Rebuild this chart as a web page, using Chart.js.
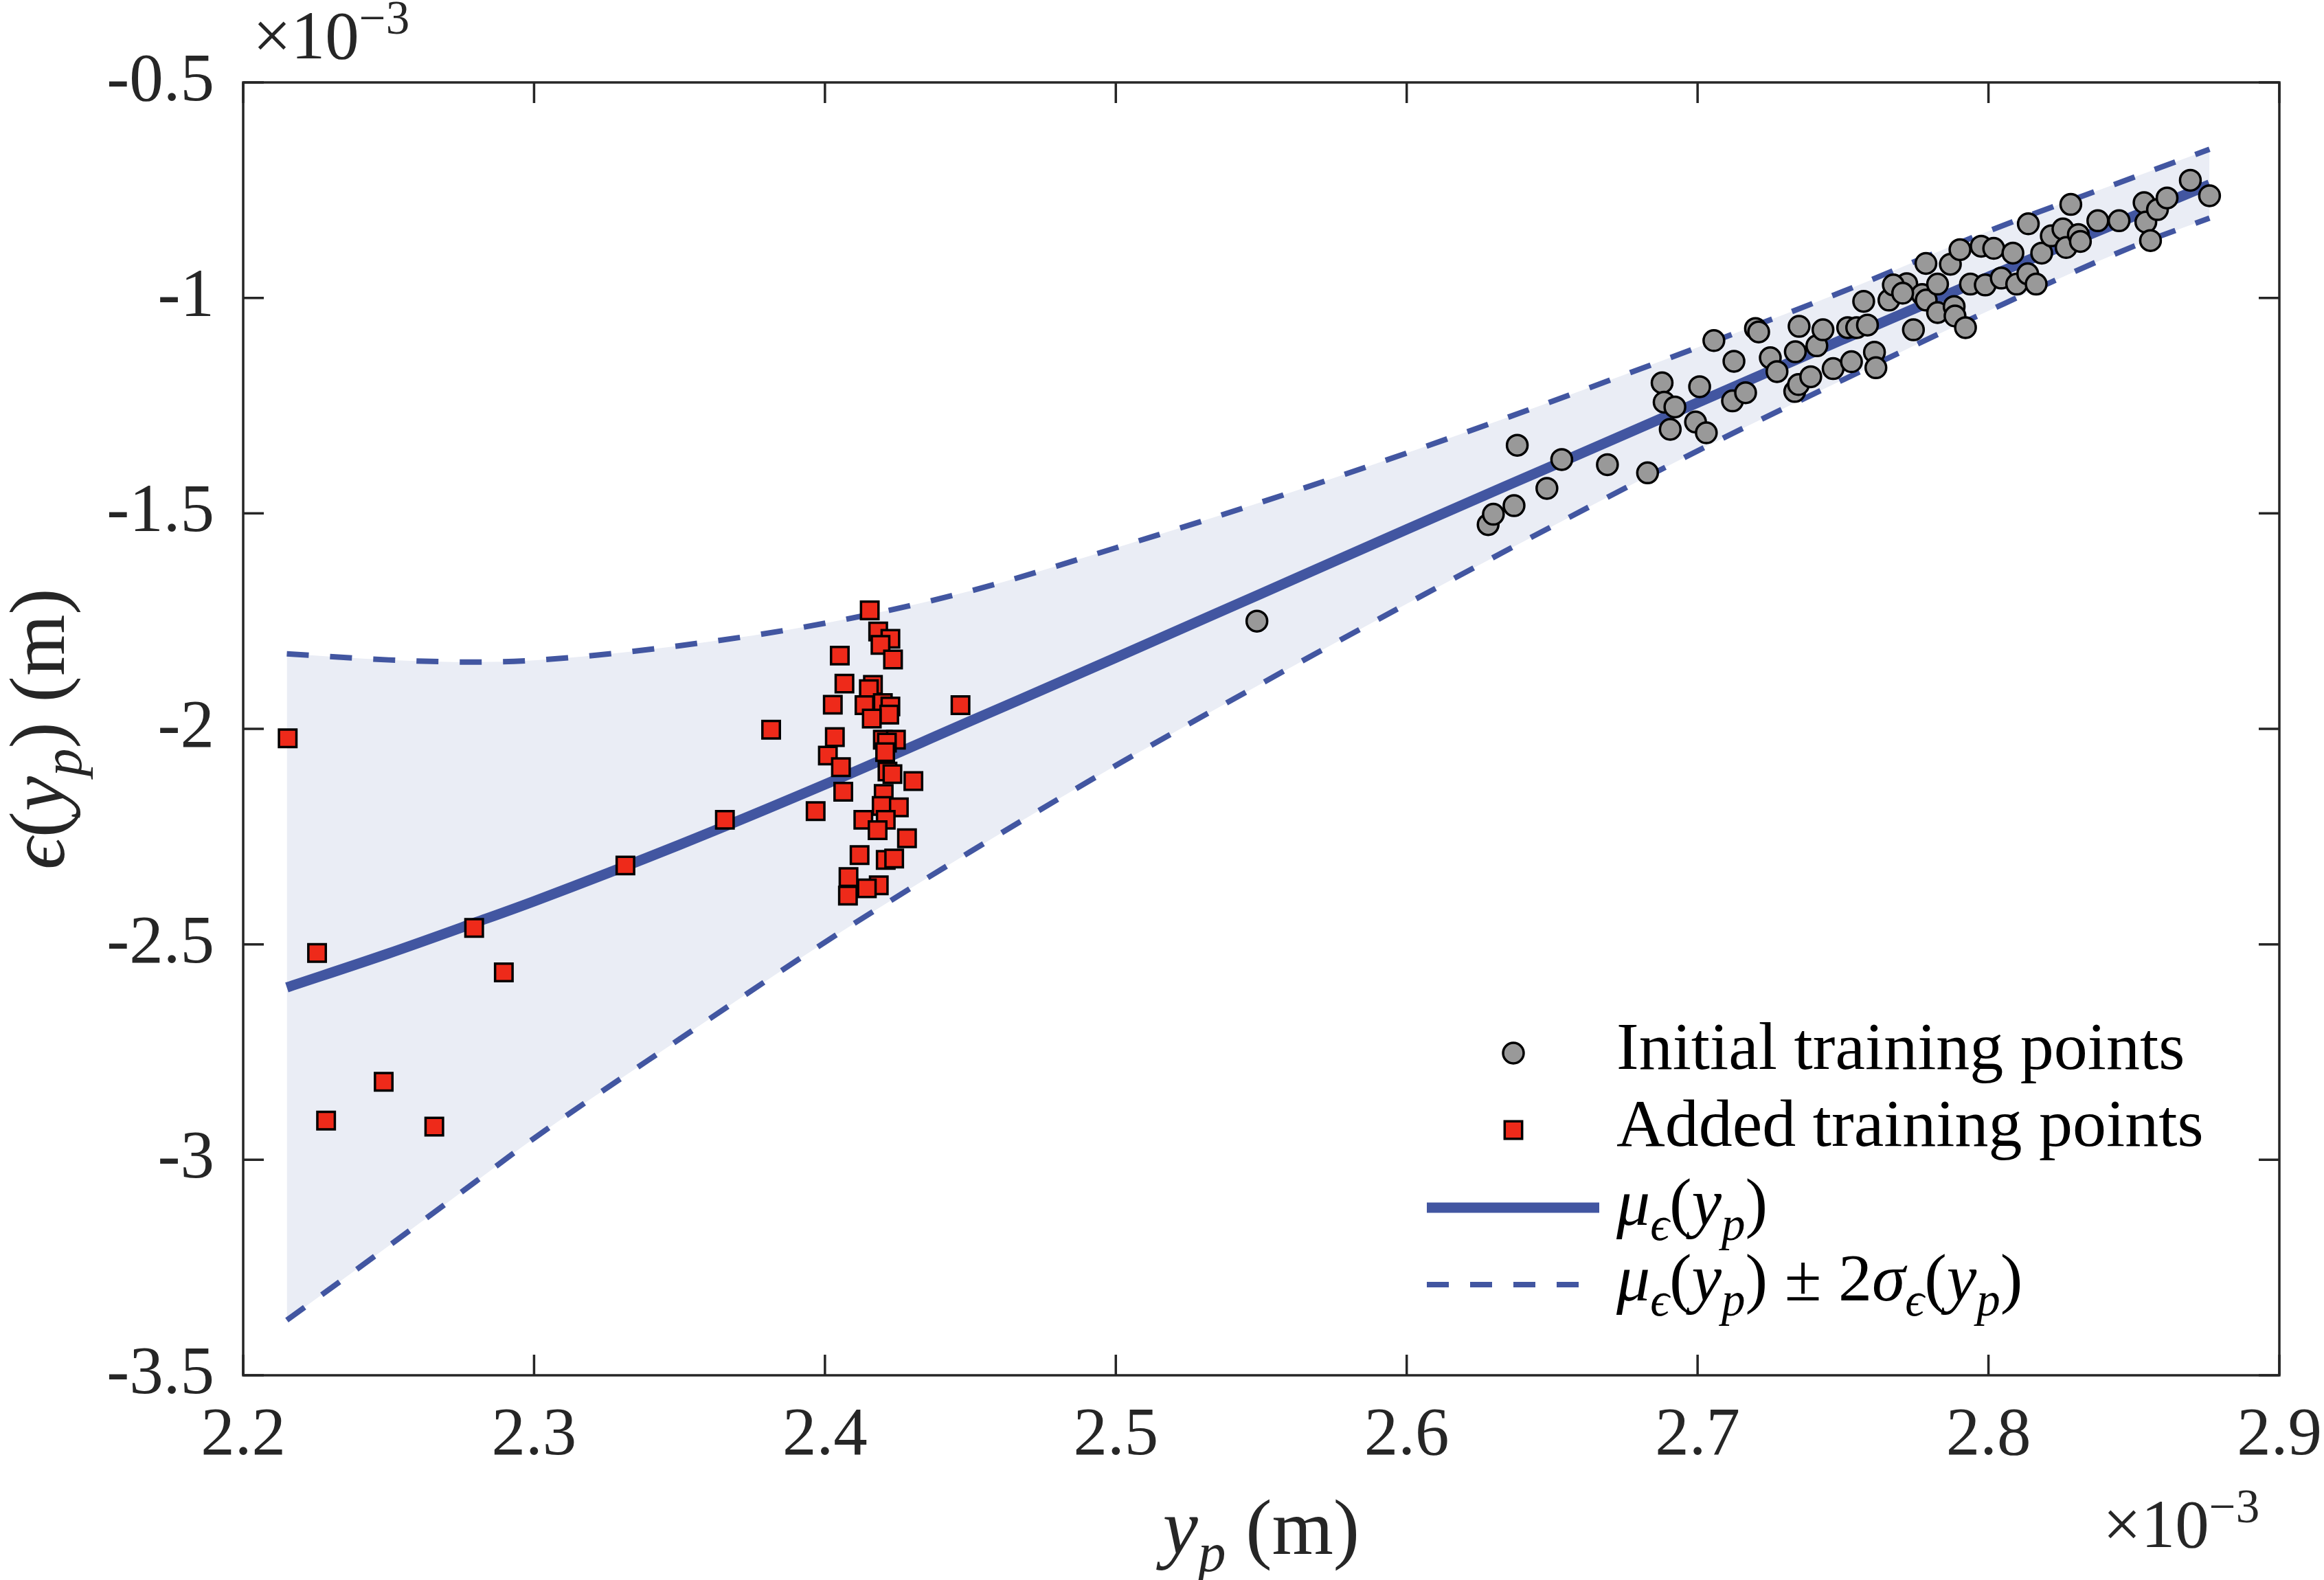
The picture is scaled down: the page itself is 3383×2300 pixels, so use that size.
<!DOCTYPE html>
<html>
<head>
<meta charset="utf-8">
<script src="https://cdn.jsdelivr.net/npm/chart.js@4.4.1/dist/chart.umd.min.js"></script>
<style>
  html, body { margin: 0; padding: 0; background: #fff; }
  canvas { display: block; }
</style>
</head>
<body>
<canvas id="chart" width="3383" height="2300"></canvas>
<script>
// all values in units of 1e-3 m (both axes carry a x10^-3 multiplier)
var xTicks = [2.2, 2.3, 2.4, 2.5, 2.6, 2.7, 2.8, 2.9];
var yTicks = [-3.5, -3, -2.5, -2, -1.5, -1, -0.5];

// GP surrogate: mean and +/- 2 sigma band
var curveX = [2.215, 2.25, 2.28, 2.30, 2.35, 2.40, 2.45, 2.50, 2.55, 2.60, 2.65, 2.70, 2.75, 2.80, 2.85, 2.876];
var meanY  = [-2.600, -2.521, -2.449, -2.400, -2.269, -2.129, -1.982, -1.835, -1.686, -1.537, -1.390, -1.243, -1.096, -0.951, -0.810, -0.737];
var upperY = [-1.826, -1.840, -1.845, -1.841, -1.807, -1.755, -1.680, -1.580, -1.474, -1.360, -1.240, -1.115, -0.985, -0.845, -0.720, -0.655];
var lowerY = [-3.372, -3.200, -3.050, -2.950, -2.720, -2.495, -2.285, -2.085, -1.895, -1.710, -1.530, -1.355, -1.190, -1.030, -0.880, -0.815];

// initial training points (grey circles)
var initialX = [2.6280, 2.6298, 2.6369, 2.6482, 2.6380, 2.6533, 2.6690, 2.6828, 2.6878, 2.6885,
  2.6922, 2.6906, 2.7007, 2.6993, 2.7030, 2.7056, 2.7125, 2.7120, 2.7165, 2.7199,
  2.7210, 2.7250, 2.7273, 2.7334, 2.7347, 2.7389, 2.7349, 2.7336, 2.7410, 2.7431,
  2.7466, 2.7516, 2.7547, 2.7584, 2.7529, 2.7608, 2.7613, 2.7571, 2.7658, 2.7742,
  2.5485, 2.7719, 2.7785, 2.7673, 2.7772, 2.7786, 2.7825, 2.7869, 2.7902, 2.7938,
  2.7975, 2.7989, 2.8018, 2.8044, 2.8084, 2.8097, 2.8135, 2.8164, 2.8137, 2.8183,
  2.8216, 2.8256, 2.8267, 2.8309, 2.8316, 2.8283, 2.8376, 2.8449, 2.8535, 2.8541,
  2.8557, 2.8581, 2.8614, 2.8694, 2.8760, 2.7825, 2.7882, 2.7885, 2.7921, 2.7705];
var initialY = [-1.526, -1.502, -1.482, -1.442, -1.342, -1.375, -1.387, -1.406, -1.197, -1.242,
  -1.253, -1.305, -1.206, -1.288, -1.313, -1.099, -1.147, -1.239, -1.220, -1.071,
  -1.079, -1.139, -1.171, -1.217, -1.201, -1.183, -1.066, -1.125, -1.111, -1.074,
  -1.164, -1.069, -1.069, -1.063, -1.148, -1.126, -1.162, -1.008, -1.005, -1.074,
  -1.750, -0.967, -0.920, -0.970, -0.992, -1.005, -0.968, -0.922, -0.888, -0.968,
  -0.880, -0.970, -0.885, -0.954, -0.896, -0.968, -0.944, -0.968, -0.828, -0.896,
  -0.856, -0.840, -0.883, -0.853, -0.869, -0.783, -0.821, -0.821, -0.779, -0.824,
  -0.867, -0.795, -0.768, -0.727, -0.763, -1.034, -1.020, -1.042, -1.069, -0.989];

// added training points (red squares)
var addedX = [2.2153, 2.2254, 2.2285, 2.2483, 2.2657, 2.2794, 2.2896, 2.3314, 2.3656, 2.3815,
  2.4466, 2.4154, 2.4183, 2.4225, 2.4191, 2.4234, 2.4051, 2.4067, 2.4165, 2.4151,
  2.4027, 2.4136, 2.4199, 2.4225, 2.4221, 2.4161, 2.4034, 2.4199, 2.4244, 2.4213,
  2.4207, 2.4010, 2.4055, 2.4215, 2.4232, 2.4304, 2.4063, 2.4202, 2.3968, 2.4195,
  2.4254, 2.4132, 2.4209, 2.4181, 2.4282, 2.4119, 2.4209, 2.4238, 2.4081, 2.4185,
  2.4144, 2.4079];
var addedY = [-2.022, -2.520, -2.909, -2.819, -2.923, -2.462, -2.565, -2.317, -2.211, -2.002,
  -1.945, -1.725, -1.774, -1.791, -1.805, -1.839, -1.830, -1.895, -1.898, -1.908,
  -1.944, -1.945, -1.940, -1.948, -1.967, -1.976, -2.019, -2.025, -2.025, -2.032,
  -2.054, -2.062, -2.089, -2.099, -2.105, -2.121, -2.146, -2.151, -2.191, -2.179,
  -2.182, -2.211, -2.211, -2.235, -2.254, -2.293, -2.304, -2.301, -2.344, -2.363,
  -2.370, -2.387];

var lineBlue = '#4256a1';
var bandFill = '#eaedf5';
var axisInk = '#262626';
var serif = '"Liberation Serif", "DejaVu Serif", serif';

function pairs(xs, ys) {
  return xs.map(function (x, i) { return { x: x, y: ys[i] }; });
}

// draw a run of text pieces (italic / subscript / superscript), returns width
function drawRuns(ctx, runs, x, y, base, measureOnly) {
  var cx = x;
  runs.forEach(function (r) {
    var small = r.sub || r.sup;
    var size = small ? Math.round(base * 0.7) : base;
    ctx.font = (r.it ? 'italic ' : '') + size + 'px ' + serif;
    var dy = r.sub ? base * 0.22 : (r.sup ? -base * 0.36 : 0);
    if (!measureOnly) ctx.fillText(r.t, cx, y + dy);
    cx += ctx.measureText(r.t).width;
  });
  return cx - x;
}

var decor = {
  id: 'decor',
  afterDraw: function (chart) {
    var ctx = chart.ctx;
    var a = chart.chartArea;
    var sx = chart.scales.x, sy = chart.scales.y;
    ctx.save();

    // box with inward ticks on all four sides
    ctx.strokeStyle = axisInk;
    ctx.lineWidth = 3.5;
    ctx.strokeRect(a.left, a.top, a.right - a.left, a.bottom - a.top);
    ctx.beginPath();
    xTicks.forEach(function (v) {
      var px = sx.getPixelForValue(v);
      ctx.moveTo(px, a.bottom); ctx.lineTo(px, a.bottom - 30);
      ctx.moveTo(px, a.top); ctx.lineTo(px, a.top + 30);
    });
    yTicks.forEach(function (v) {
      var py = sy.getPixelForValue(v);
      ctx.moveTo(a.left, py); ctx.lineTo(a.left + 30, py);
      ctx.moveTo(a.right, py); ctx.lineTo(a.right - 30, py);
    });
    ctx.stroke();

    ctx.fillStyle = axisInk;
    ctx.textBaseline = 'alphabetic';
    ctx.textAlign = 'left';

    // exponent labels
    var expo = [{ t: '\u00d710' }, { t: '\u22123', sup: true }];
    drawRuns(ctx, expo, 368, 85, 99);
    drawRuns(ctx, expo, 3061, 2252, 99);

    // x axis title
    var xTitle = [{ t: 'y', it: true }, { t: 'p', it: true, sub: true }, { t: ' (m)' }];
    var w = drawRuns(ctx, xTitle, 0, 0, 115, true);
    drawRuns(ctx, xTitle, (a.left + a.right) / 2 - w / 2, 2262, 115);

    // y axis title (rotated)
    var yTitle = [{ t: '\u03f5', it: true }, { t: '(' }, { t: 'y', it: true }, { t: 'p', it: true, sub: true }, { t: ')' }, { t: ' (m)' }];
    w = drawRuns(ctx, yTitle, 0, 0, 115, true);
    ctx.save();
    ctx.translate(93, (a.top + a.bottom) / 2);
    ctx.rotate(-Math.PI / 2);
    drawRuns(ctx, yTitle, -w / 2, 0, 115);
    ctx.restore();

    // legend
    var mx = 2203, tx = 2353;
    ctx.lineWidth = 3.5;
    ctx.strokeStyle = '#000';
    ctx.fillStyle = '#999999';
    ctx.beginPath(); ctx.arc(mx, 1533, 15, 0, Math.PI * 2); ctx.fill(); ctx.stroke();
    ctx.fillStyle = '#ee2a1a';
    ctx.beginPath(); ctx.rect(mx - 12.7, 1645 - 12.7, 25.4, 25.4); ctx.fill(); ctx.stroke();

    ctx.strokeStyle = lineBlue;
    ctx.lineWidth = 15;
    ctx.beginPath(); ctx.moveTo(2077, 1758); ctx.lineTo(2328, 1758); ctx.stroke();
    ctx.lineWidth = 8;
    ctx.setLineDash([32, 31]);
    ctx.beginPath(); ctx.moveTo(2077, 1870); ctx.lineTo(2328, 1870); ctx.stroke();
    ctx.setLineDash([]);

    ctx.fillStyle = '#000';
    drawRuns(ctx, [{ t: 'Initial training points' }], tx, 1556, 98);
    drawRuns(ctx, [{ t: 'Added training points' }], tx, 1668, 98);
    var mu = [{ t: '\u03bc', it: true }, { t: '\u03f5', it: true, sub: true }, { t: '(' }, { t: 'y', it: true }, { t: 'p', it: true, sub: true }, { t: ')' }];
    drawRuns(ctx, mu, tx, 1783, 98);
    var band = mu.concat([{ t: ' \u00b1 2' }, { t: '\u03c3', it: true }, { t: '\u03f5', it: true, sub: true }, { t: '(' }, { t: 'y', it: true }, { t: 'p', it: true, sub: true }, { t: ')' }]);
    drawRuns(ctx, band, tx, 1893, 98);

    ctx.restore();
  }
};

var tickFont = { family: serif, size: 99 };

new Chart(document.getElementById('chart'), {
  type: 'line',
  data: {
    datasets: [
      {
        label: 'Added training points',
        data: pairs(addedX, addedY),
        showLine: false,
        pointStyle: 'rect',
        pointRadius: 18,
        pointBackgroundColor: '#ee2a1a',
        pointBorderColor: '#000',
        pointBorderWidth: 3.5
      },
      {
        label: 'Initial training points',
        data: pairs(initialX, initialY),
        showLine: false,
        pointStyle: 'circle',
        pointRadius: 15,
        pointBackgroundColor: '#999999',
        pointBorderColor: '#000',
        pointBorderWidth: 3.5
      },
      {
        label: 'mean',
        data: pairs(curveX, meanY),
        borderColor: lineBlue,
        borderWidth: 15,
        pointRadius: 0,
        cubicInterpolationMode: 'monotone',
        fill: false
      },
      {
        label: 'upper',
        data: pairs(curveX, upperY),
        borderColor: lineBlue,
        borderWidth: 8,
        borderDash: [32, 31],
        pointRadius: 0,
        cubicInterpolationMode: 'monotone',
        backgroundColor: bandFill,
        fill: '+1'
      },
      {
        label: 'lower',
        data: pairs(curveX, lowerY),
        borderColor: lineBlue,
        borderWidth: 8,
        borderDash: [32, 31],
        pointRadius: 0,
        cubicInterpolationMode: 'monotone',
        fill: false
      }
    ]
  },
  options: {
    responsive: false,
    animation: false,
    devicePixelRatio: 1,
    layout: { padding: { top: 120, right: 65, left: 0, bottom: 0 }, autoPadding: false },
    plugins: {
      legend: { display: false },
      tooltip: { enabled: false },
      filler: { drawTime: 'beforeDatasetsDraw' }
    },
    scales: {
      x: {
        type: 'linear',
        min: 2.2,
        max: 2.9,
        grid: { display: false, drawTicks: false },
        border: { display: false },
        ticks: {
          font: tickFont,
          color: axisInk,
          padding: 30,
          maxRotation: 0,
          callback: function (v) { return String(Math.round(v * 10) / 10); }
        },
        afterBuildTicks: function (s) { s.ticks = xTicks.map(function (v) { return { value: v }; }); },
        afterFit: function (s) { s.height = 298; s.paddingLeft = 0; s.paddingRight = 0; }
      },
      y: {
        type: 'linear',
        min: -3.5,
        max: -0.5,
        grid: { display: false, drawTicks: false },
        border: { display: false },
        ticks: {
          font: tickFont,
          color: axisInk,
          padding: 42,
          callback: function (v) { return String(Math.round(v * 10) / 10); }
        },
        afterBuildTicks: function (s) { s.ticks = yTicks.map(function (v) { return { value: v }; }); },
        afterFit: function (s) { s.width = 354; s.paddingTop = 0; s.paddingBottom = 0; }
      }
    }
  },
  plugins: [decor]
});
</script>
</body>
</html>
